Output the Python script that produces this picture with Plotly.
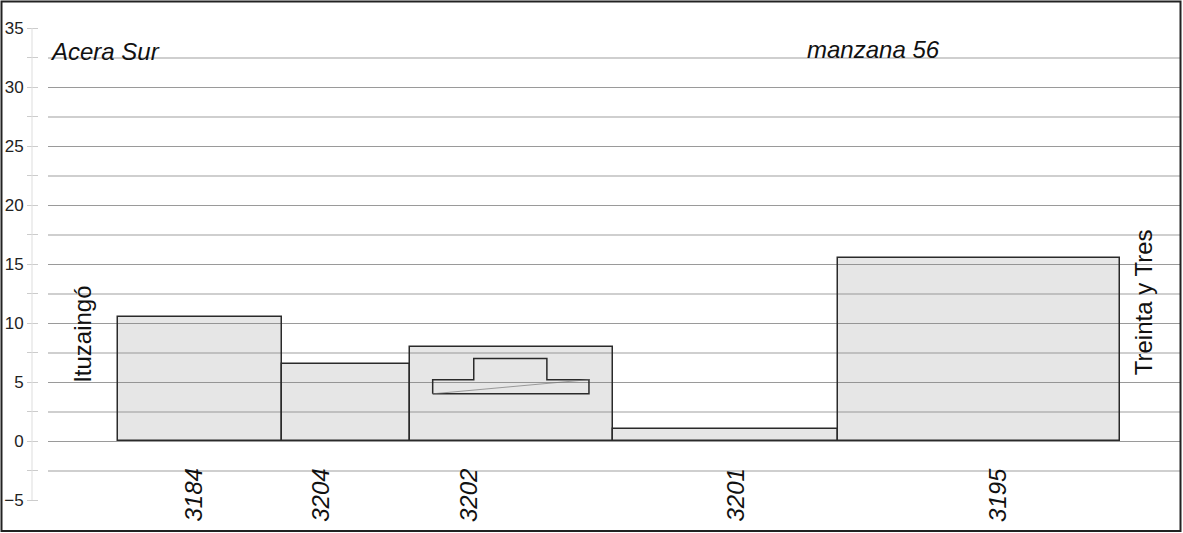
import plotly.graph_objects as go

# Datos de la acera (metros a lo largo de la manzana, altura en metros)
padrones = ['3184', '3204', '3202', '3201', '3195']
anchos = [16.4, 12.7, 20.3, 22.5, 28.1]
alturas = [10.5, 6.5, 8.0, 1.0, 15.5]
inicio = 7.0
pos_etiquetas = [14.5, 27.2, 42.0, 68.6, 94.8]

# Volumen interior del padron 3202
vol_x = [38.4, 38.4, 42.5, 42.5, 49.8, 49.8, 54.0, 54.0, 38.4]
vol_y = [4.0, 5.2, 5.2, 7.0, 7.0, 5.2, 5.2, 4.0, 4.0]
diag_x = [38.4, 54.0]
diag_y = [4.0, 5.2]

FUENTE = 'Liberation Sans, Arial, sans-serif'
ANCHO, ALTO = 1183, 533
M_IZQ, M_DER, M_SUP, M_INF = 0, 3, 28, 33

# centros de las barras
centros = []
x = inicio
for a in anchos:
    centros.append(x + a / 2)
    x += a


def px_x(p):
    return (p - M_IZQ) / (ANCHO - M_IZQ - M_DER)


def px_y(p):
    return (ALTO - M_INF - p) / (ALTO - M_SUP - M_INF)


fig = go.Figure()

fig.add_trace(go.Bar(
    x=centros,
    y=alturas,
    width=anchos,
    marker=dict(color='rgba(128,128,128,0.2)', line=dict(color='#2a2a2a', width=1.5)),
    showlegend=False,
))

fig.add_trace(go.Scatter(
    x=vol_x, y=vol_y, mode='lines',
    line=dict(color='#2a2a2a', width=1.5),
    showlegend=False,
))
fig.add_trace(go.Scatter(
    x=diag_x, y=diag_y, mode='lines',
    line=dict(color='#777777', width=0.7),
    showlegend=False,
))

# etiquetas de padrones
for p, xe in zip(padrones, pos_etiquetas):
    fig.add_annotation(x=xe, y=-4.6, text='<i>' + p + '</i>', showarrow=False,
                       textangle=-90, font=dict(size=24, color='#111', family=FUENTE))

fig.add_annotation(x=3.5, y=9.0, text='Ituzaingó', showarrow=False, textangle=-90,
                   font=dict(size=24, color='#111', family=FUENTE))
fig.add_annotation(x=109.3, y=11.75, text='Treinta y Tres', showarrow=False, textangle=-90,
                   font=dict(size=24, color='#111', family=FUENTE))
fig.add_annotation(x=0, y=33.0, xanchor='left', text='<i>Acera Sur</i>', showarrow=False,
                   font=dict(size=24, color='#111', family=FUENTE))
fig.add_annotation(x=82.4, y=33.2, text='<i>manzana 56</i>', showarrow=False,
                   font=dict(size=24, color='#111', family=FUENTE))

# linea del eje y y marco exterior
fig.add_shape(type='line', xref='paper', yref='y', x0=px_x(32), x1=px_x(32), y0=-5, y1=35,
              line=dict(color='#dddddd', width=1))
fig.add_shape(type='rect', xref='paper', yref='paper',
              x0=px_x(1.5), x1=px_x(1180.5), y0=px_y(531), y1=px_y(1.5),
              line=dict(color='#222222', width=2))

fig.update_layout(
    width=ANCHO, height=ALTO,
    margin=dict(l=M_IZQ, r=M_DER, t=M_SUP, b=M_INF),
    plot_bgcolor='white',
    paper_bgcolor='white',
    xaxis=dict(range=[0, 113], domain=[px_x(48), 1], showgrid=False, showticklabels=False,
               zeroline=False, ticks=''),
    yaxis=dict(range=[-5, 35], dtick=5, tick0=0, anchor='free', position=px_x(38),
               showgrid=True, gridcolor='#9a9a9a', gridwidth=1, zeroline=False,
               ticks='outside', ticklen=11, tickcolor='#cccccc', showline=False,
               tickfont=dict(size=17, color='#222', family=FUENTE),
               minor=dict(dtick=2.5, tick0=0, showgrid=True, gridcolor='#cfcfcf', gridwidth=1.5,
                          ticks='outside', ticklen=11, tickcolor='#cccccc')),
    bargap=0,
)

# sin margen en la pagina, para que el grafico empiece en la esquina
fig.write_html('out.html', config={'displayModeBar': False},
               post_script="document.body.style.margin='0px';")
